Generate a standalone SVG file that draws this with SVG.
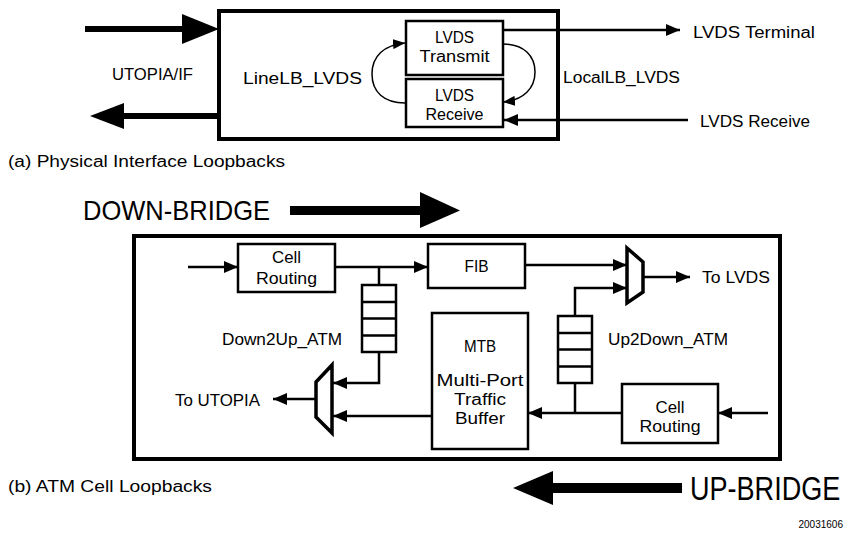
<svg xmlns="http://www.w3.org/2000/svg" width="848" height="533" viewBox="0 0 848 533">
<style>
text{font-family:"Liberation Sans","DejaVu Sans",sans-serif;font-size:16px;fill:#000}
.c{text-anchor:middle}
.big{font-size:28px}
.huge{font-size:33px}
.box{fill:#fff;stroke:#000;stroke-width:2.5}
.frame{fill:none;stroke:#000;stroke-width:4}
.ln{fill:none;stroke:#000;stroke-width:2.5}
.thin{fill:none;stroke:#000;stroke-width:1.5}
.mux{fill:#fff;stroke:#000;stroke-width:3.5;stroke-linejoin:miter}
.id{font-family:"Liberation Sans",sans-serif;font-size:10px}
</style>
<defs>
<marker id="ah" markerUnits="userSpaceOnUse" markerWidth="14" markerHeight="12" refX="14" refY="6" orient="auto"><path d="M0,0 L14,6 L0,12 z" fill="#000"/></marker>
<marker id="ahs" markerUnits="userSpaceOnUse" markerWidth="12" markerHeight="10" refX="12" refY="5" orient="auto"><path d="M0,0 L12,5 L0,10 z" fill="#000"/></marker>
</defs>
<rect width="848" height="533" fill="#fff"/>

<!-- (a) Physical interface loopbacks -->
<g id="phy-frame">
<rect class="frame" x="219" y="11" width="339" height="128"/>
</g>
<g id="lvds-transmit">
<rect class="box" x="406" y="21" width="97" height="54"/>
<text class="c" x="454.5" y="43" textLength="39" lengthAdjust="spacingAndGlyphs">LVDS</text>
<text class="c" x="454.5" y="62" textLength="70" lengthAdjust="spacingAndGlyphs">Transmit</text>
</g>
<g id="lvds-receive">
<rect class="box" x="406" y="79" width="97" height="48"/>
<text class="c" x="454.5" y="101" textLength="39" lengthAdjust="spacingAndGlyphs">LVDS</text>
<text class="c" x="454.5" y="120" textLength="58" lengthAdjust="spacingAndGlyphs">Receive</text>
</g>
<g id="phy-labels">
<text x="112" y="80" textLength="81" lengthAdjust="spacingAndGlyphs">UTOPIA/IF</text>
<text x="243" y="84" textLength="119" lengthAdjust="spacingAndGlyphs">LineLB_LVDS</text>
<text x="563" y="83" textLength="117" lengthAdjust="spacingAndGlyphs">LocalLB_LVDS</text>
<text x="693" y="38" textLength="122" lengthAdjust="spacingAndGlyphs">LVDS Terminal</text>
<text x="700" y="127" textLength="110" lengthAdjust="spacingAndGlyphs">LVDS Receive</text>
<text x="8" y="167" textLength="277" lengthAdjust="spacingAndGlyphs">(a) Physical Interface Loopbacks</text>
</g>

<!-- (b) ATM cell loopbacks -->
<g id="atm-frame">
<rect class="frame" x="134" y="236" width="646" height="223"/>
</g>
<g id="cell-routing-down">
<rect class="box" x="238" y="244" width="97" height="48"/>
<text class="c" x="286.5" y="263" textLength="29" lengthAdjust="spacingAndGlyphs">Cell</text>
<text class="c" x="286.5" y="284" textLength="61" lengthAdjust="spacingAndGlyphs">Routing</text>
</g>
<g id="fib">
<rect class="box" x="428" y="244" width="97" height="44"/>
<text class="c" x="476.5" y="272" textLength="24" lengthAdjust="spacingAndGlyphs">FIB</text>
</g>
<g id="down2up-queue">
<rect class="box" x="362" y="285" width="34" height="67"/>
<path class="ln" d="M362,302 H396 M362,318.5 H396 M362,335.5 H396"/>
</g>
<g id="up2down-queue">
<rect class="box" x="558" y="316" width="34" height="67"/>
<path class="ln" d="M558,333 H592 M558,349.5 H592 M558,366.5 H592"/>
</g>
<g id="mtb">
<rect class="box" x="432" y="313" width="96" height="136"/>
<text class="c" x="480" y="352" textLength="32" lengthAdjust="spacingAndGlyphs">MTB</text>
<text class="c" x="480" y="386" textLength="87" lengthAdjust="spacingAndGlyphs">Multi-Port</text>
<text class="c" x="480" y="405" textLength="52" lengthAdjust="spacingAndGlyphs">Traffic</text>
<text class="c" x="480" y="424" textLength="50" lengthAdjust="spacingAndGlyphs">Buffer</text>
</g>
<g id="cell-routing-up">
<rect class="box" x="622" y="384" width="96" height="59"/>
<text class="c" x="670" y="413" textLength="29" lengthAdjust="spacingAndGlyphs">Cell</text>
<text class="c" x="670" y="432" textLength="61" lengthAdjust="spacingAndGlyphs">Routing</text>
</g>
<g id="mux-utopia">
<path class="mux" d="M332,365 L332,433 L316,417 L316,382 Z"/>
</g>
<g id="mux-lvds">
<path class="mux" d="M627,248 L627,303 L643,292 L643,262 Z"/>
</g>
<g id="atm-labels">
<text x="222" y="345" textLength="120" lengthAdjust="spacingAndGlyphs">Down2Up_ATM</text>
<text x="608" y="345" textLength="120" lengthAdjust="spacingAndGlyphs">Up2Down_ATM</text>
<text x="175" y="406" textLength="85" lengthAdjust="spacingAndGlyphs">To UTOPIA</text>
<text x="702" y="283" textLength="68" lengthAdjust="spacingAndGlyphs">To LVDS</text>
<text class="big" x="83" y="220" textLength="187" lengthAdjust="spacingAndGlyphs">DOWN-BRIDGE</text>
<text class="huge" transform="translate(690,500) scale(0.82,1)" x="0" y="0">UP-BRIDGE</text>
<text x="8" y="492" textLength="204" lengthAdjust="spacingAndGlyphs">(b) ATM Cell Loopbacks</text>
<text class="id" x="843" y="528" text-anchor="end">20031606</text>
</g>

<g id="connectors">
<!-- top panel -->
<path d="M85,29 H185" stroke="#000" stroke-width="6"/>
<path d="M182,14 L219,29 L182,44 Z" fill="#000"/>
<path d="M219,116 H120" stroke="#000" stroke-width="6"/>
<path d="M124,103 L90,116 L124,129 Z" fill="#000"/>
<path class="ln" d="M503,30 H680" marker-end="url(#ah)"/>
<path class="ln" d="M688,120 H504" marker-end="url(#ah)"/>
<path class="thin" d="M405,103 C384,103 372,92 372,74 C372,56 384,45 405,43" marker-end="url(#ahs)"/>
<path class="thin" d="M503,44 C524,44 535,56 535,72 C535,88 524,100 503,102" marker-end="url(#ahs)"/>
<!-- bottom panel -->
<path d="M290,210.5 H424" stroke="#000" stroke-width="9"/>
<path d="M420,192 L460,210.5 L420,228 Z" fill="#000"/>
<path d="M682,488 H550" stroke="#000" stroke-width="10"/>
<path d="M553,471 L513,488 L553,505 Z" fill="#000"/>
<path class="ln" d="M188,267 H238" marker-end="url(#ah)"/>
<path class="ln" d="M335,267 H428" marker-end="url(#ah)"/>
<path class="ln" d="M379,267 V285"/>
<path class="ln" d="M379,352 V383 H333" marker-end="url(#ah)"/>
<path class="ln" d="M432,416 H333" marker-end="url(#ah)"/>
<path class="ln" d="M316,399 H273" marker-end="url(#ah)"/>
<path class="ln" d="M525,265 H627" marker-end="url(#ah)"/>
<path class="ln" d="M575,316 V288 H627" marker-end="url(#ah)"/>
<path class="ln" d="M643,277 H690" marker-end="url(#ah)"/>
<path class="ln" d="M768,413 H718" marker-end="url(#ah)"/>
<path class="ln" d="M622,413 H528" marker-end="url(#ah)"/>
<path class="ln" d="M575,383 V413"/>
</g>
</svg>
